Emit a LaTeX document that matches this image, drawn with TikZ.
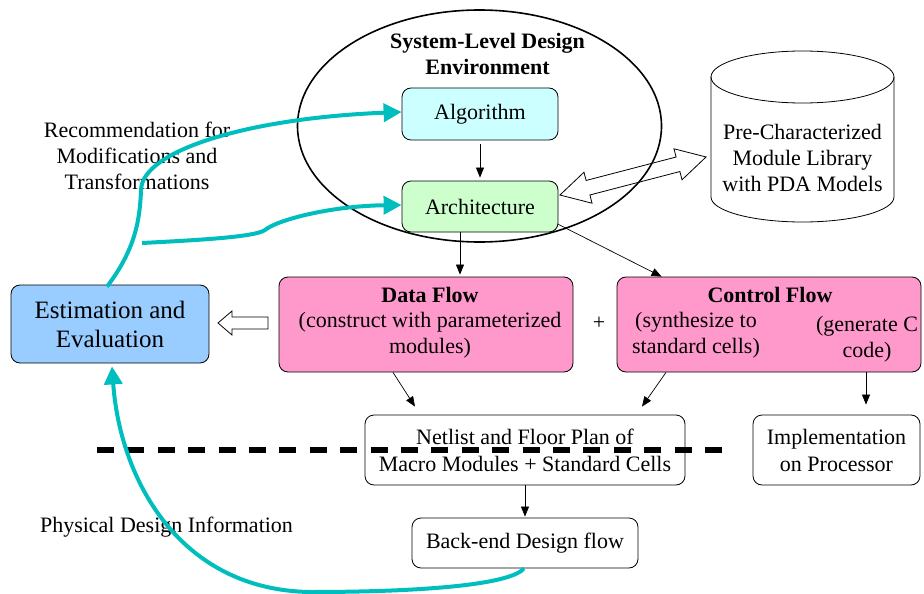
\documentclass[tikz,border=0pt]{standalone}
\usepackage{fontspec}
\setmainfont{Liberation Serif}
\usetikzlibrary{arrows.meta,shapes.geometric,calc}
\definecolor{tealline}{RGB}{0,190,190}
\definecolor{algfill}{RGB}{204,255,255}
\definecolor{archfill}{RGB}{204,255,204}
\definecolor{flowfill}{RGB}{255,153,204}
\definecolor{estfill}{RGB}{153,204,255}
\begin{document}
\begin{tikzpicture}[x=1pt,y=-1pt,
  box/.style={draw=black, line width=0.8pt, rounded corners=9pt, align=center, inner sep=0pt,
              font=\fontsize{22}{27}\selectfont},
  txt/.style={font=\fontsize{22}{26}\selectfont, align=center, inner sep=0pt},
  btxt/.style={font=\fontsize{22}{26}\selectfont\bfseries, align=center, inner sep=0pt},
  arr/.style={-{Triangle[length=10pt,width=8pt]}, line width=0.7pt},
  tl/.style={draw=tealline, line width=4pt, -{Triangle[length=18pt,width=18pt]}},
  hollow/.style={draw=black, line width=0.8pt, line join=miter},
]
\useasboundingbox (0,0) rectangle (924,594);

% environment ellipse
\node[ellipse, draw, line width=1.6pt, minimum width=364pt, minimum height=232pt, inner sep=0pt] (env) at (479.5,126) {};
\node[btxt] (envt) at (487.5,54) {System-Level Design\\Environment};

% boxes
\node[box, fill=algfill, minimum width=156pt, minimum height=52pt] (alg) at (480,114) {Algorithm};
\node[box, fill=archfill, minimum width=156pt, minimum height=51pt] (arch) at (480,206.5) {Architecture};

% library cylinder
\draw[line width=0.8pt] (711,77) -- (711,197)
  .. controls (711,210.8) and (752,222) .. (802.5,222)
  .. controls (853,222) and (894,210.8) .. (894,197) -- (894,77);
\draw[line width=0.8pt] (802.5,77) ellipse [x radius=91.5, y radius=26];
\node[txt] (lib) at (802.5,158) {Pre-Characterized\\Module Library\\with PDA Models};

% double hollow arrow arch <-> lib
\begin{scope}[shift={(633,176)}, rotate=14.6]
  \draw[hollow] (-75.5,0) -- (-46.5,16) -- (-46.5,7.5) -- (46.5,7.5) -- (46.5,16) -- (75.5,0)
    -- (46.5,-16) -- (46.5,-7.5) -- (-46.5,-7.5) -- (-46.5,-16) -- cycle;
\end{scope}

% flow boxes
\node[box, fill=flowfill, minimum width=294pt, minimum height=95pt] (df) at (426,324.5) {};
\node[btxt] (dft) at (430,295) {Data Flow};
\node[txt] (dfs) at (430,335.5) {(construct with parameterized\\modules)};
\node[box, fill=flowfill, minimum width=304pt, minimum height=95pt] (cf) at (769,324.5) {};
\node[btxt] (cft) at (770,295) {Control Flow};
\node[txt] (cfa) at (696,335.5) {(synthesize to\\standard cells)};
\node[txt] (cfb) at (867,339.5) {(generate C\\code)};
\node[txt] (plus) at (599,323) {+};

\node[box, fill=estfill, minimum width=198pt, minimum height=78pt, font=\fontsize{25}{29}\selectfont] (est) at (110,324) {Estimation and\\Evaluation};

% hollow arrow df -> est
\draw[hollow] (218,323) -- (232,311) -- (232,317) -- (268,317) -- (268,329) -- (232,329) -- (232,335) -- cycle;

\node[box, fill=white, minimum width=320pt, minimum height=70pt] (net) at (525,450) {Netlist and Floor Plan of\\Macro Modules + Standard Cells};
\node[box, fill=white, minimum width=167pt, minimum height=70pt] (impl) at (836.5,450) {Implementation\\on Processor};
\node[box, fill=white, minimum width=226pt, minimum height=50pt] (be) at (525,543) {Back-end Design flow};

\node[txt] (rec) at (137,156) {Recommendation for\\Modifications and\\Transformations};
\node[txt] (phys) at (166.5,527) {Physical Design Information};

% black arrows
\draw[arr] ([yshift=-4pt]alg.south) -- ([yshift=3pt]arch.north);
\draw[arr] ([xshift=-20pt]arch.south) -- ([xshift=34pt,yshift=2pt]df.north);
\draw[arr] ([yshift=8pt]arch.south east) -- ([xshift=45pt]cf.north west);
\draw[arr] ([xshift=-33pt]df.south) -- ([xshift=-110pt,yshift=8pt]net.north);
\draw[arr] ([xshift=-103pt]cf.south) -- ([xshift=117pt,yshift=8pt]net.north);
\draw[arr] ([xshift=97pt]cf.south) -- ([xshift=29.5pt,yshift=10pt]impl.north);
\draw[arr] (net.south) -- ([yshift=1pt]be.north);

% dashed separator
\coordinate (dl) at (97,450);
\coordinate (dr) at (722,450);
\draw[line width=6pt, dash pattern=on 17pt off 13.4pt] (dl) -- (dr);

% teal feedback curves
\coordinate (c2s) at (142,243);
\draw[tl] ([xshift=-3pt,yshift=-2pt]est.north) .. controls (135,250) and (140,220) .. (141,190)
  .. controls (142,150) and (250,118) .. ([yshift=2pt]alg.west);
\draw[tl] (c2s) .. controls (200,240) and (255,237) .. (265,230)
  .. controls (277,220) and (330,206) .. ([yshift=1.5pt]arch.west);
\draw[tl] ([xshift=-1pt]be.south) .. controls (510,585) and (420,592) .. (310,592)
  .. controls (180,590) and (120,480) .. ([xshift=2pt,yshift=-3pt]est.south);
\end{tikzpicture}
\end{document}
